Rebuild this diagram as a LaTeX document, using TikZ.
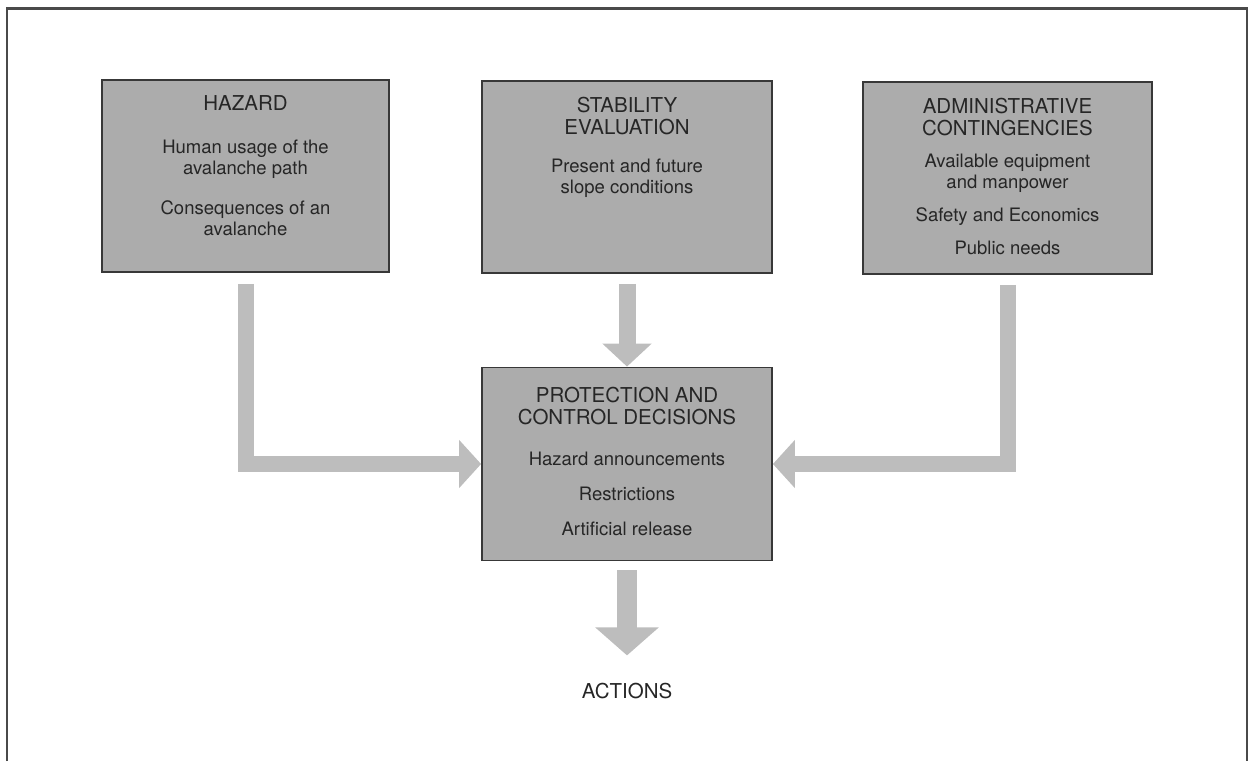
\documentclass[tikz,border=0pt]{standalone}
\usepackage{fontspec}
\setmainfont{TeX Gyre Heros}
\usepackage{xcolor}
\usepackage{tikz}
\usetikzlibrary{arrows.meta,positioning}
\definecolor{boxfill}{HTML}{ACACAC}
\definecolor{boxline}{HTML}{383838}
\definecolor{flowgray}{HTML}{BDBDBD}
\definecolor{ink}{HTML}{262626}
\definecolor{framegray}{HTML}{4A4A4A}

\begin{document}
\begin{tikzpicture}[x=1pt,y=-1pt,node distance=4mm and 4mm,
  every node/.style={align=center,text=ink},
  panel/.style={draw=boxline,fill=boxfill,line width=1.8pt,minimum width=#1,minimum height=192pt,inner sep=0pt},
  ttl/.style={font=\fontsize{20.5}{22}\selectfont},
  txt/.style={font=\fontsize{18.5}{21}\selectfont},
  flow/.style={draw=flowgray,line width=16pt,-{Triangle[length=22pt,width=47pt]}},
  bigflow/.style={draw=flowgray,line width=20pt,-{Triangle[length=28pt,width=62pt]}}]
  \useasboundingbox (0,0) rectangle (1252,761);
  \draw[framegray,line width=2.4pt] (7,761) -- (7,8.5) -- (1247,8.5) -- (1247,761);
  % upper row
  \node[panel=287pt] (haz) at (245.5,176) {};
  \node[panel=290pt] (stab) at (627,177) {};
  \node[panel=289pt] (adm) at (1007.5,178) {};
  \node[ttl,yshift=73pt] (hazT) at (haz) {HAZARD};
  \node[txt,yshift=-12pt] (hazB) at (haz) {Human usage of the\\avalanche path\\[19pt]Consequences of an\\avalanche};
  \node[ttl,yshift=60.5pt] (stabT) at (stab) {STABILITY\\EVALUATION};
  \node[txt,yshift=-1pt] (stabB) at (stab) {Present and future\\slope conditions};
  \node[ttl,yshift=60.5pt] (admT) at (adm) {ADMINISTRATIVE\\CONTINGENCIES};
  \node[txt,yshift=-26.5pt] (admB) at (adm) {Available equipment\\and manpower\\[12pt]Safety and Economics\\[12pt]Public needs};
  % decision box
  \node[panel=290pt,minimum height=193pt] (prot) at (627,464) {};
  \node[ttl,yshift=58pt] (protT) at (prot) {PROTECTION AND\\CONTROL DECISIONS};
  \node[txt,yshift=-29.5pt] (protB) at (prot) {Hazard announcements\\[14pt]Restrictions\\[14pt]Artificial release};
  \node[ttl,below=118pt of prot] (act) {ACTIONS};
  % flows
  \draw[flow,shorten <=11pt] (haz.south) |- (prot.west);
  \draw[flow,line width=17pt,-{Triangle[length=23pt,width=48pt]},shorten <=10pt] (stab.south) -- (prot.north);
  \draw[flow,shorten <=10pt] (adm.south) |- (prot.east);
  \draw[bigflow,shorten <=9pt,shorten >=24pt] (prot) -- (act);
\end{tikzpicture}
\end{document}
